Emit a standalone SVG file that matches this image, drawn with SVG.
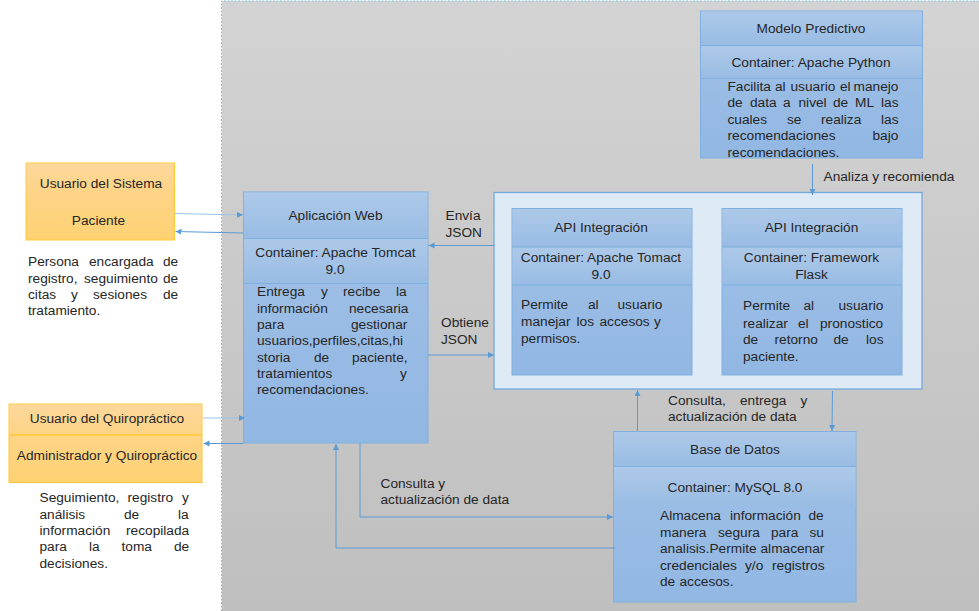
<svg xmlns="http://www.w3.org/2000/svg" width="979" height="611" viewBox="0 0 979 611">
<style>
text{font-family:"Liberation Sans",Arial,sans-serif;font-size:13.700px;fill:#262626}
.m{text-anchor:middle}
.s{fill:url(#gs)}
.blue{stroke:#7fb0e0;stroke-width:1;fill:url(#gb)}
.or{stroke:#ffc833;stroke-width:1;fill:url(#go)}
.os{fill:url(#gos)}
.c{fill:none;stroke:#5b9bd5;stroke-width:1}
.cl{fill:none;stroke:#9dc3e6;stroke-width:1}
</style>
<defs>
<linearGradient id="gb" x1="0" y1="0" x2="0" y2="1"><stop offset="0" stop-color="#a3c2e7"/><stop offset="1" stop-color="#91b7e3"/></linearGradient>
<linearGradient id="gs" x1="0" y1="0" x2="0" y2="1"><stop offset="0" stop-color="#adc9e9"/><stop offset="1" stop-color="#99bce4"/></linearGradient>
<linearGradient id="go" x1="0" y1="0" x2="0" y2="1"><stop offset="0" stop-color="#fdd596"/><stop offset="1" stop-color="#fed272"/></linearGradient>
<linearGradient id="gos" x1="0" y1="0" x2="0" y2="1"><stop offset="0" stop-color="#fdd89c"/><stop offset="1" stop-color="#fdd385"/></linearGradient>
<linearGradient id="gg" x1="0" y1="0" x2="0" y2="1"><stop offset="0" stop-color="#d3d3d3"/><stop offset="1" stop-color="#bfbfbf"/></linearGradient>
<marker id="a" markerWidth="7" markerHeight="7" refX="6" refY="3" orient="auto" markerUnits="userSpaceOnUse"><path d="M0 0L6 3L0 6z" fill="#5b9bd5"/></marker>
</defs>
<rect width="979" height="611" fill="#fff"/>
<g id="fondo">
<rect x="222" y="1" width="757" height="610" fill="url(#gg)"/>
<path d="M221.500 611V1H979" fill="none" stroke="#7fc0d8" stroke-width="1" stroke-dasharray="2 1.500"/>
</g>
<g id="usuario-sistema">
<rect class="or" x="26" y="163" width="148.500" height="77"/>
<rect class="os" x="26.500" y="163.500" width="147.500" height="31"/>
<text class="m" x="101" y="188">Usuario del Sistema</text>
<text class="m" x="98.500" y="225">Paciente</text>
</g>
<g id="texto-paciente">
<text y="266"><tspan x="28">Persona</tspan><tspan x="89">encargada</tspan><tspan x="163">de</tspan></text>
<text y="282.500"><tspan x="28">registro,</tspan><tspan x="84">seguimiento</tspan><tspan x="163">de</tspan></text>
<text y="299"><tspan x="28">citas</tspan><tspan x="71">y</tspan><tspan x="93">sesiones</tspan><tspan x="163">de</tspan></text>
<text y="315"><tspan x="28">tratamiento.</tspan></text>
</g>
<g id="usuario-quiropractico">
<rect class="or" x="9" y="404" width="193" height="78.500"/>
<rect class="os" x="9.500" y="404.500" width="192" height="30.500"/>
<path d="M9 435H202" stroke="#ffc833" stroke-width="1.500"/>
<text class="m" x="107" y="423">Usuario del Quiropráctico</text>
<text class="m" x="107" y="460">Administrador y Quiropráctico</text>
</g>
<g id="texto-quiropractico">
<text y="502"><tspan x="39.500">Seguimiento,</tspan><tspan x="127.500">registro</tspan><tspan x="182">y</tspan></text>
<text y="518.500"><tspan x="39.500">análisis</tspan><tspan x="124">de</tspan><tspan x="178">la</tspan></text>
<text y="535"><tspan x="39.500">información</tspan><tspan x="126">recopilada</tspan></text>
<text y="551"><tspan x="39.500">para</tspan><tspan x="89">la</tspan><tspan x="121.500">toma</tspan><tspan x="174">de</tspan></text>
<text y="567.500"><tspan x="39.500">decisiones.</tspan></text>
</g>
<g id="aplicacion-web">
<rect class="blue" x="243.500" y="192" width="184.500" height="251"/>
<rect class="s" x="244" y="192.500" width="183.500" height="46"/>
<rect class="s" x="244" y="239" width="183.500" height="44"/>
<path d="M243.500 238.500H428M243.500 283.500H428" stroke="#7fb0e0"/>
<text class="m" x="335.500" y="220">Aplicación Web</text>
<text class="m" x="335.500" y="257">Container: Apache Tomcat</text>
<text class="m" x="335" y="274">9.0</text>
<text y="296"><tspan x="257">Entrega</tspan><tspan x="321">y</tspan><tspan x="343">recibe</tspan><tspan x="396">la</tspan></text>
<text y="312.500"><tspan x="257">información</tspan><tspan x="349">necesaria</tspan></text>
<text y="329"><tspan x="257">para</tspan><tspan x="351">gestionar</tspan></text>
<text y="345"><tspan x="257">usuarios,perfiles,citas,hi</tspan></text>
<text y="362"><tspan x="257">storia</tspan><tspan x="314">de</tspan><tspan x="352">paciente,</tspan></text>
<text y="378"><tspan x="257">tratamientos</tspan><tspan x="400">y</tspan></text>
<text y="394"><tspan x="257">recomendaciones.</tspan></text>
</g>
<g id="modelo-predictivo">
<rect class="blue" x="700.500" y="11" width="222" height="147"/>
<rect class="s" x="701" y="11.500" width="221" height="34"/>
<rect class="s" x="701" y="46" width="221" height="32.500"/>
<path d="M700.500 45.500H922.500M700.500 78.500H922.500" stroke="#7fb0e0" stroke-width="1.200"/>
<text class="m" x="811" y="33">Modelo Predictivo</text>
<text class="m" x="811" y="66.500">Container: Apache Python</text>
<text y="91"><tspan x="727.500">Facilita</tspan><tspan x="775">al</tspan><tspan x="790.500">usuario</tspan><tspan x="840">el</tspan><tspan x="853.500">manejo</tspan></text>
<text y="107"><tspan x="727.500">de</tspan><tspan x="750">data</tspan><tspan x="783">a</tspan><tspan x="798.500">nivel</tspan><tspan x="833">de</tspan><tspan x="855">ML</tspan><tspan x="881">las</tspan></text>
<text y="124"><tspan x="727.500">cuales</tspan><tspan x="787">se</tspan><tspan x="821">realiza</tspan><tspan x="881">las</tspan></text>
<text y="140"><tspan x="727.500">recomendaciones</tspan><tspan x="872.500">bajo</tspan></text>
<text y="156.500"><tspan x="727.500">recomendaciones.</tspan></text>
</g>
<g id="contenedor-api">
<rect x="494" y="192.500" width="428" height="196.500" fill="#deeaf6" stroke="#74a9de" stroke-width="1.300"/>
</g>
<g id="api-tomact">
<rect class="blue" x="512" y="208.500" width="180" height="166.500"/>
<rect class="s" x="512.500" y="209" width="179" height="38"/>
<rect class="s" x="512.500" y="247.500" width="179" height="37.500"/>
<path d="M512 247H692M512 285H692" stroke="#7fb0e0"/>
<text class="m" x="601" y="232">API Integración</text>
<text class="m" x="601" y="262">Container: Apache Tomact</text>
<text class="m" x="601" y="279">9.0</text>
<text y="309"><tspan x="521">Permite</tspan><tspan x="588">al</tspan><tspan x="617.500">usuario</tspan></text>
<text y="326"><tspan x="521">manejar</tspan><tspan x="576.500">los</tspan><tspan x="599.500">accesos</tspan><tspan x="654">y</tspan></text>
<text y="342.500"><tspan x="521">permisos.</tspan></text>
</g>
<g id="api-flask">
<rect class="blue" x="722" y="208.500" width="180" height="166.500"/>
<rect class="s" x="722.500" y="209" width="179" height="38"/>
<rect class="s" x="722.500" y="247.500" width="179" height="37.500"/>
<path d="M722 247H902M722 285H902" stroke="#7fb0e0"/>
<text class="m" x="811.500" y="232">API Integración</text>
<text class="m" x="811.500" y="262">Container: Framework</text>
<text class="m" x="811.500" y="279">Flask</text>
<text y="310"><tspan x="743">Permite</tspan><tspan x="803.500">al</tspan><tspan x="838.500">usuario</tspan></text>
<text y="328"><tspan x="743">realizar</tspan><tspan x="798">el</tspan><tspan x="820">pronostico</tspan></text>
<text y="344"><tspan x="743">de</tspan><tspan x="774.500">retorno</tspan><tspan x="833.500">de</tspan><tspan x="866">los</tspan></text>
<text y="361"><tspan x="743">paciente.</tspan></text>
</g>
<g id="base-datos">
<rect class="blue" x="613.500" y="431.500" width="242.500" height="170.500"/>
<rect class="s" x="614" y="432" width="241.500" height="34.500"/>
<rect class="s" x="614" y="467" width="241.500" height="40.500"/>
<path d="M613.500 466.500H856" stroke="#7fb0e0"/>
<text class="m" x="735" y="454">Base de Datos</text>
<text class="m" x="735" y="491.500">Container: MySQL 8.0</text>
<text y="520"><tspan x="660">Almacena</tspan><tspan x="730">información</tspan><tspan x="808.500">de</tspan></text>
<text y="537"><tspan x="660">manera</tspan><tspan x="718">segura</tspan><tspan x="771">para</tspan><tspan x="809.500">su</tspan></text>
<text y="553"><tspan x="660">analisis.Permite</tspan><tspan x="760.500">almacenar</tspan></text>
<text y="569.500"><tspan x="660">credenciales</tspan><tspan x="745">y/o</tspan><tspan x="772">registros</tspan></text>
<text y="586"><tspan x="660">de</tspan><tspan x="679.500">accesos.</tspan></text>
</g>
<g id="conectores">
<path class="cl" d="M174.500 213.500L243 215" marker-end="url(#a)"/>
<path class="c" d="M243 233L175.500 231.500" marker-end="url(#a)"/>
<path class="c" d="M494 245.500H428.500" marker-end="url(#a)"/>
<path class="c" d="M428 355H494" marker-end="url(#a)"/>
<path class="c" d="M812.500 164V195" marker-end="url(#a)"/>
<path class="c" d="M637.500 431V390" marker-end="url(#a)"/>
<path class="c" d="M832.500 391L832 431" marker-end="url(#a)"/>
<path class="cl" d="M203 418H245" marker-end="url(#a)"/>
<path class="c" d="M243 443.500H203.500" marker-end="url(#a)"/>
<path class="c" d="M360 443V517H613" stroke-width="1.300" marker-end="url(#a)"/>
<path class="c" d="M615 548H336V444" marker-end="url(#a)"/>
</g>
<g id="etiquetas">
<text y="220"><tspan x="445.500">Envía</tspan></text>
<text y="237"><tspan x="445.500">JSON</tspan></text>
<text y="327"><tspan x="441">Obtiene</tspan></text>
<text y="344"><tspan x="441">JSON</tspan></text>
<text x="823.500" y="180.500">Analiza y recomienda</text>
<text y="405"><tspan x="668">Consulta,</tspan><tspan x="740">entrega</tspan><tspan x="800.500">y</tspan></text>
<text x="668" y="421">actualización de data</text>
<text x="380.500" y="488">Consulta y</text>
<text x="380.500" y="504">actualización de data</text>
</g>
</svg>
